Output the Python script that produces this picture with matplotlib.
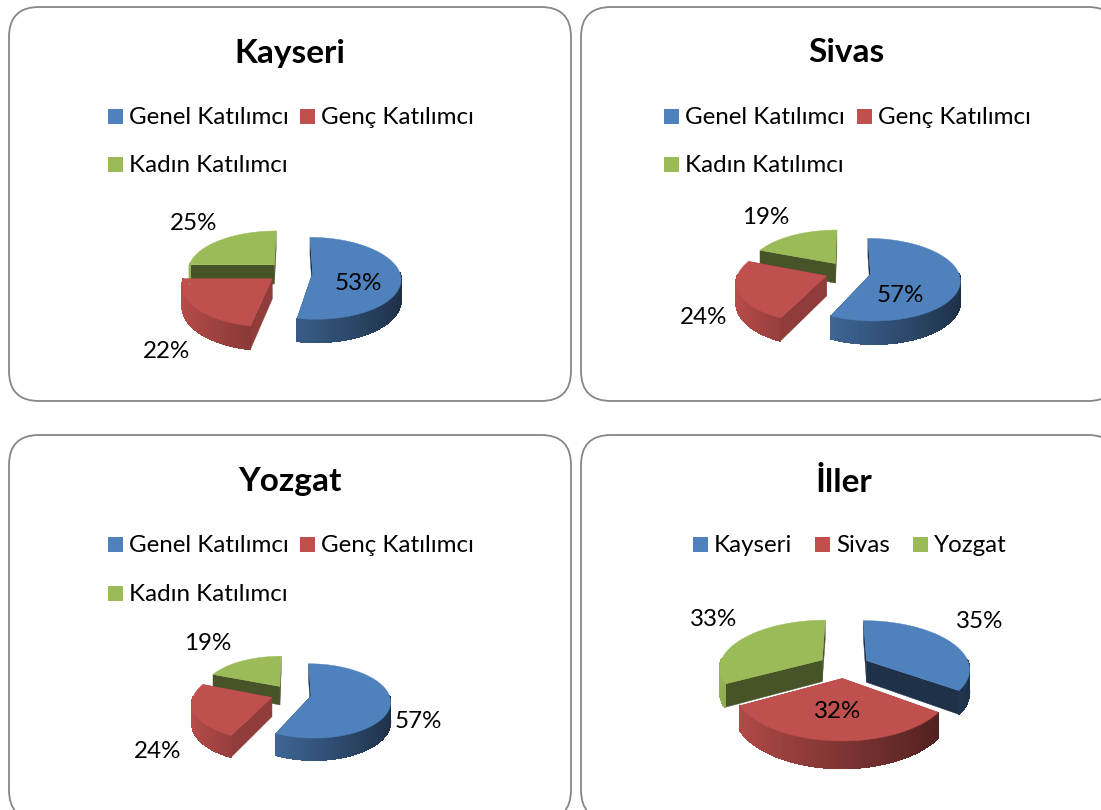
import numpy as np
import matplotlib
matplotlib.use('Agg')
import matplotlib.pyplot as plt
from matplotlib.collections import LineCollection, PolyCollection
from matplotlib.patches import FancyBboxPatch, Polygon, Rectangle

plt.rcParams['font.family'] = ['Lato', 'DejaVu Sans']

# data
titles = ['Kayseri', 'Sivas', 'Yozgat', 'İller']
group_labels = ['Genel Katılımcı', 'Genç Katılımcı', 'Kadın Katılımcı']
city_labels = ['Kayseri', 'Sivas', 'Yozgat']
kayseri_values = [53, 22, 25]
sivas_values = [57, 24, 19]
yozgat_values = [57, 24, 19]
iller_values = [35, 32, 33]
all_values = [kayseri_values, sivas_values, yozgat_values, iller_values]
all_legends = [group_labels, group_labels, group_labels, city_labels]

# layout, pixels
panels = [(9, 7, 562, 394), (581, 7, 537, 394), (9, 435, 562, 385), (581, 435, 537, 385)]
title_pos = [(290, 53), (846, 53), (290, 482), (844, 482)]
# cx, cy, rx, ry, depth, explode, perspective
pie_geom = [(290, 272, 87, 40, 20, 0.26, 0.13),
            (848, 272, 88, 40, 20, 0.26, 0.13),
            (291, 694, 78, 36, 19, 0.26, 0.13),
            (844, 666, 103, 48, 22, 0.25, 0.16)]
label_pos = [[(358, 283), (166, 351), (194, 223)],
             [(900, 295), (704, 317), (766, 217)],
             [(418, 722), (158, 752), (208, 644)],
             [(980, 622), (838, 712), (714, 620)]]
legend_pos = [[(108, 109), (300, 109), (108, 157)],
              [(664, 109), (857, 109), (664, 157)],
              [(108, 537), (300, 537), (108, 586)],
              [(693, 537), (815, 537), (913, 537)]]
colors = ['#4F81BD', '#C0504D', '#9BBB59']
cut_shade = [0.38, 0.75, 0.45]


def shade(color, f):
    return tuple(np.array(matplotlib.colors.to_rgb(color)) * f)


def draw_pie(ax, values, geom):
    cx, cy, rx, ry, depth, explode, persp = geom
    fracs = np.array(values) / sum(values)
    edges = np.concatenate([[0], np.cumsum(fracs)]) * 2 * np.pi

    def project(x, y, down=0):
        s = 1 / (1 - persp * y)
        return np.column_stack([cx + rx * x * s, cy + (ry * y + down) * s])

    slices = []
    for i in range(len(values)):
        mid = (edges[i] + edges[i + 1]) / 2
        slices.append((-np.cos(mid), i))

    # back slices first
    for _, i in sorted(slices):
        t0, t1 = edges[i], edges[i + 1]
        mid = (t0 + t1) / 2
        ox, oy = explode * np.sin(mid), -explode * np.cos(mid)
        t = np.linspace(t0, t1, 120)
        x = ox + np.sin(t)
        y = oy - np.cos(t)
        col = colors[i]

        # cut faces
        for tt in (t0, t1):
            px = np.array([ox, ox + np.sin(tt)])
            py = np.array([oy, oy - np.cos(tt)])
            quad = np.vstack([project(px, py), project(px, py, depth)[::-1]])
            c = shade(col, cut_shade[i])
            ax.add_patch(Polygon(quad, closed=True, fc=c, ec=c, lw=0.3))

        # outer wall, darker to the right
        top = project(x, y)
        bot = project(x, y, depth)
        quads, wall_colors, rim = [], [], []
        for k in range(len(t) - 1):
            if np.cos(t[k]) > 0.02:
                continue
            quads.append([top[k], top[k + 1], bot[k + 1], bot[k]])
            wall_colors.append(shade(col, 0.66 - 0.30 * np.sin(t[k])))
            rim.append([bot[k], bot[k + 1]])
        if quads:
            ax.add_collection(PolyCollection(quads, facecolors=wall_colors, edgecolors=wall_colors,
                                             linewidths=0.5, antialiaseds=False))
            ax.add_collection(LineCollection(rim, colors=wall_colors, linewidths=0.8))

        # top face
        face = np.vstack([project(np.array([ox]), np.array([oy])), top])
        ax.add_patch(Polygon(face, closed=True, fc=col, ec=col, lw=0.3))


fig = plt.figure(figsize=(11.01, 8.10), dpi=100)
ax = fig.add_axes([0, 0, 1, 1])
ax.set_xlim(0, 1101)
ax.set_ylim(810, 0)
ax.axis('off')

for p in range(4):
    x0, y0, w, h = panels[p]
    ax.add_patch(FancyBboxPatch((x0 + 30, y0 + 30), w - 60, h - 60,
                                boxstyle='round,pad=30,rounding_size=30',
                                fc='white', ec='#868686', lw=1.3))
    ax.text(title_pos[p][0], title_pos[p][1], titles[p], fontsize=24, fontweight='bold',
            ha='center', va='center', color='black')
    draw_pie(ax, all_values[p], pie_geom[p])
    for v, pos in zip(all_values[p], label_pos[p]):
        ax.text(pos[0], pos[1], f'{v}%', fontsize=17.4, ha='center', va='center', color='black')
    for i, name in enumerate(all_legends[p]):
        lx, ly = legend_pos[p][i]
        ax.add_patch(Rectangle((lx, ly), 15, 15, fc=colors[i], ec='none'))
        ax.text(lx + 21, ly + 8.5, name, fontsize=17.4, ha='left', va='center', color='black')

fig.savefig('out.png', dpi=100)
